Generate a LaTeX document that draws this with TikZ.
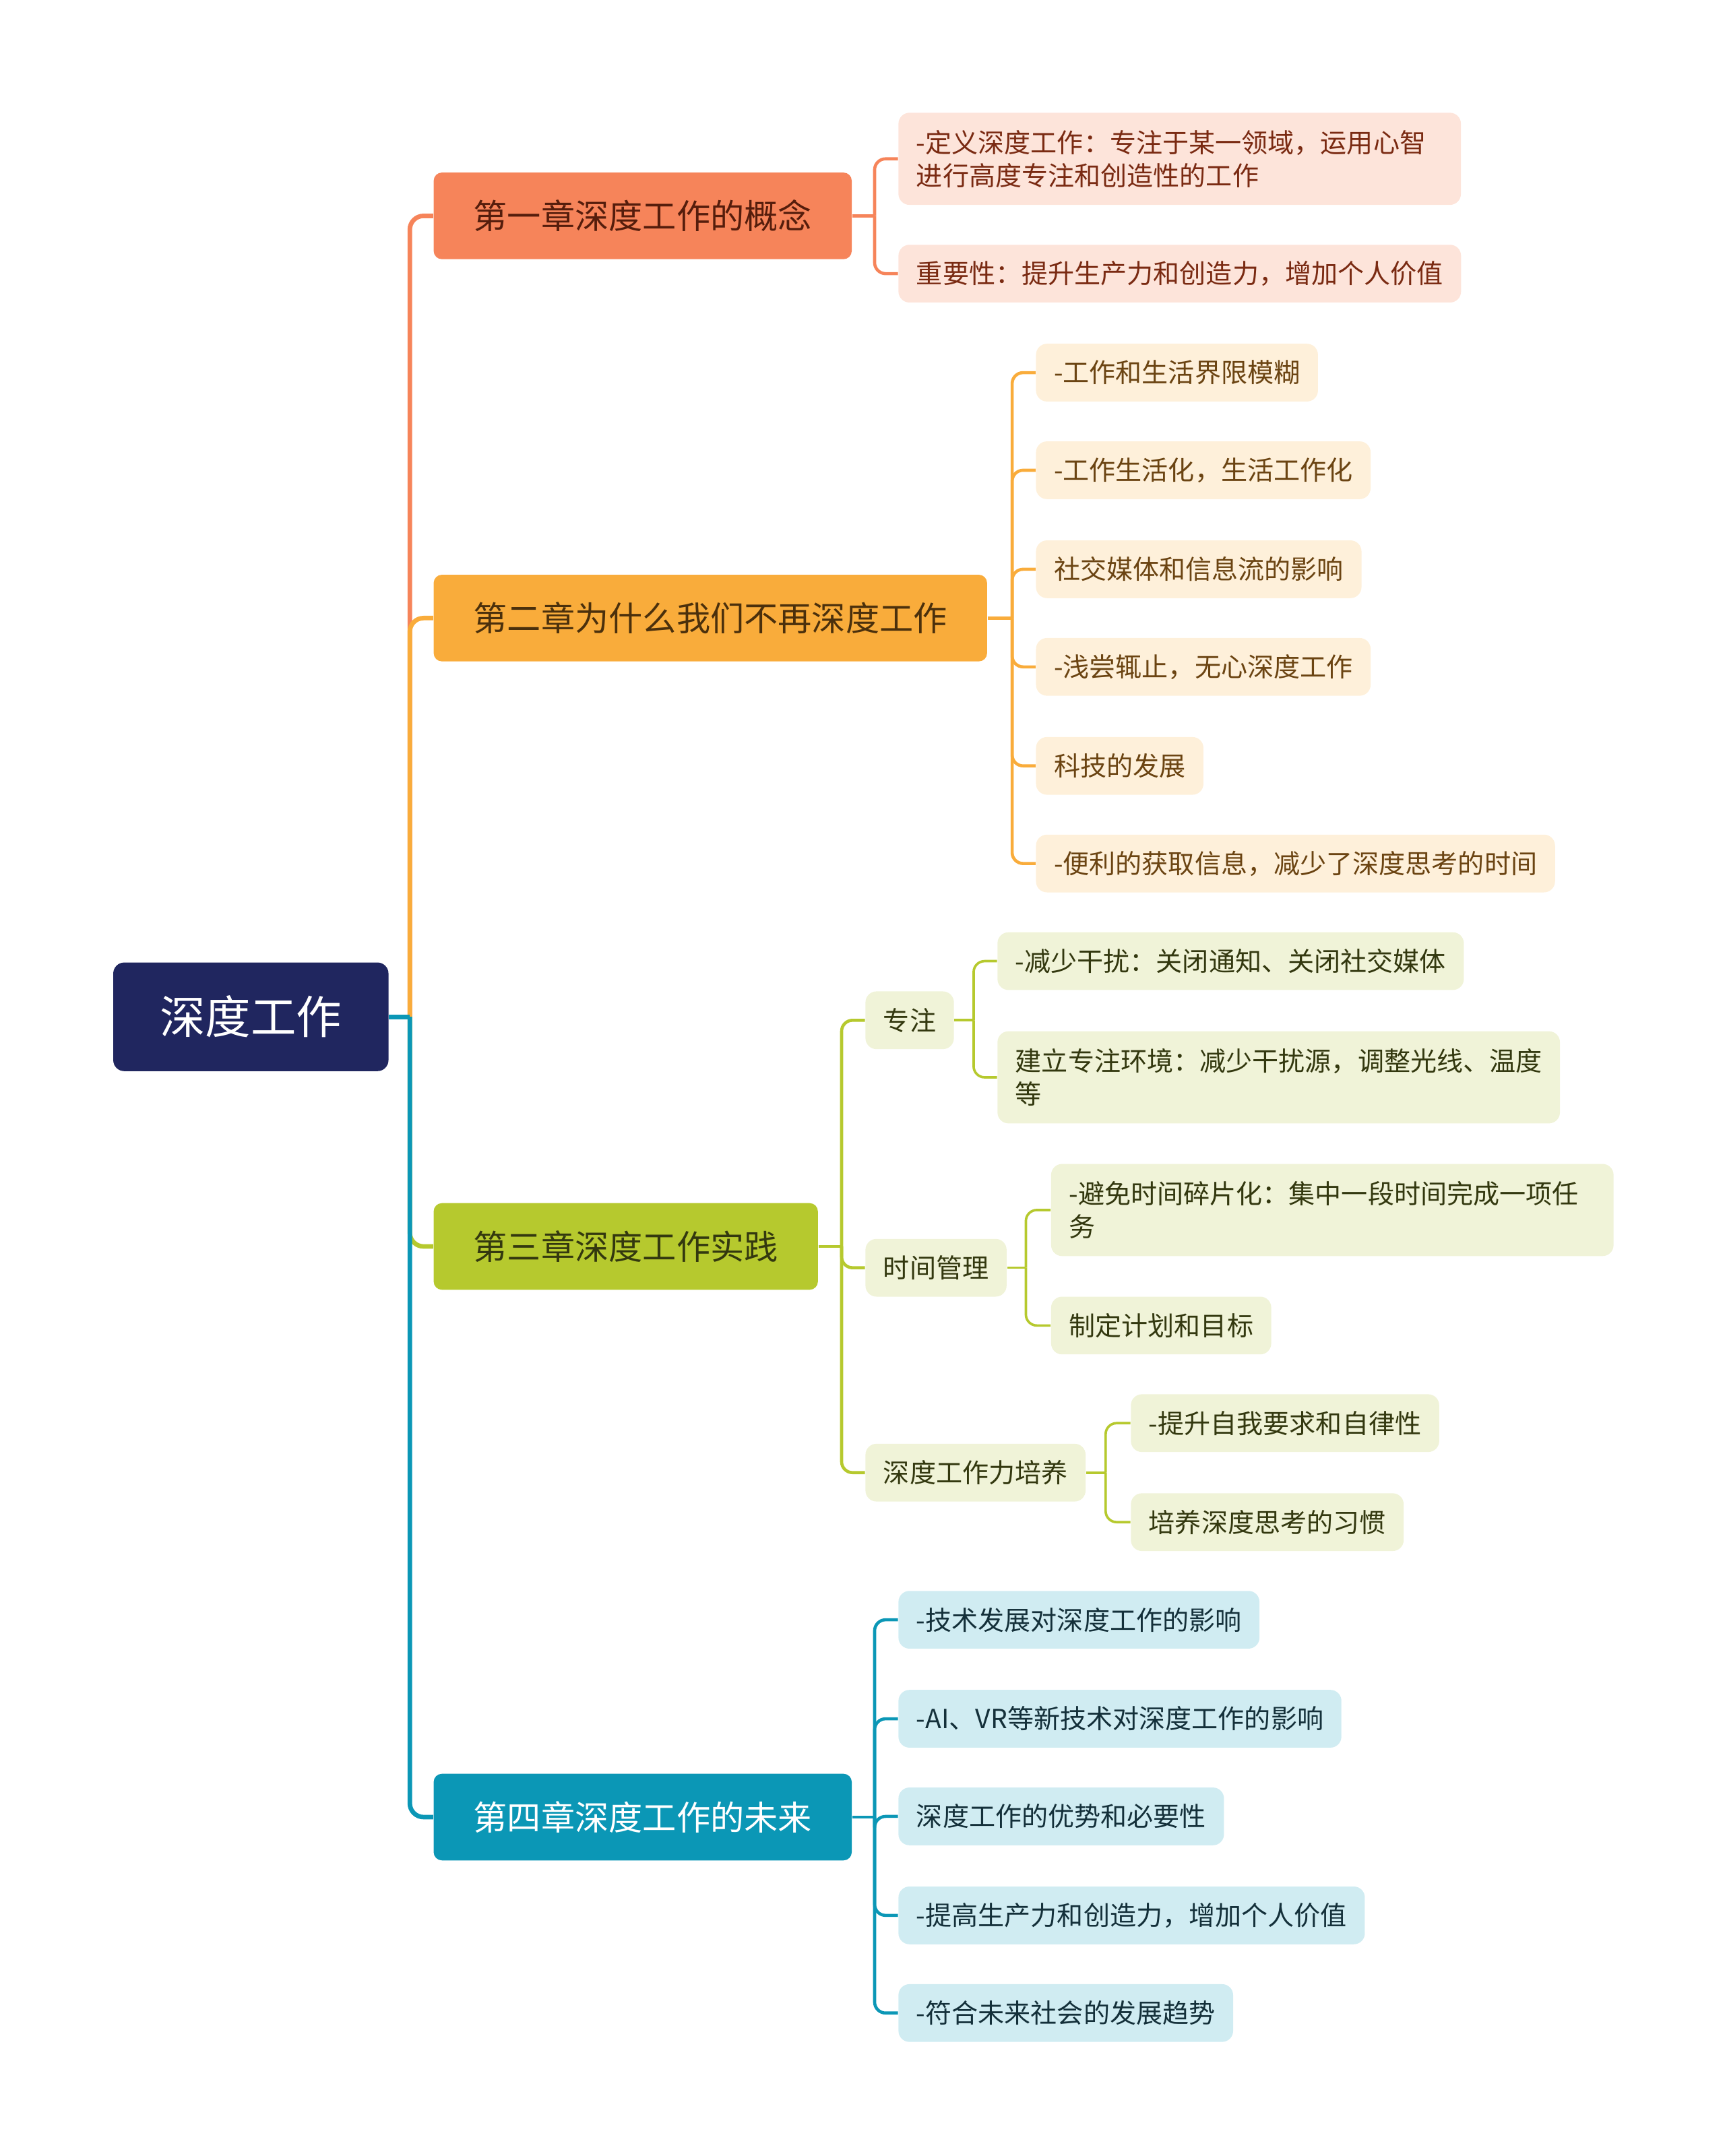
\documentclass[tikz,border=0pt]{standalone}
\usepackage{fontspec}
\setmainfont{Noto Sans CJK SC}
\usepackage{xcolor}
\usetikzlibrary{positioning}

\definecolor{rootblue}{HTML}{20265F}
\definecolor{coral}{HTML}{F6845A}
\definecolor{corallt}{HTML}{FDE4DA}
\definecolor{coraltx}{HTML}{7A2A12}
\definecolor{amber}{HTML}{F9AC3B}
\definecolor{amberlt}{HTML}{FEF0DA}
\definecolor{ambertx}{HTML}{6B4412}
\definecolor{lime}{HTML}{B6C92E}
\definecolor{limelt}{HTML}{F0F3D8}
\definecolor{limetx}{HTML}{33380F}
\definecolor{teal}{HTML}{0B97B6}
\definecolor{teallt}{HTML}{D0ECF2}
\definecolor{tealtx}{HTML}{14303A}

\begin{document}
\begin{tikzpicture}[
		x=0.2mm, y=-0.2mm,
		font=\fontsize{10.9pt}{13.66pt}\selectfont,
		root/.style={rounded corners=1.6mm, anchor=west, fill=rootblue, text=white, inner xsep=6.8mm, minimum height=15.8mm, font=\fontsize{18.8pt}{22pt}\selectfont},
		chap/.style={rounded corners=1.2mm, anchor=west, inner xsep=5.8mm, minimum height=12.6mm, font=\fontsize{14pt}{17pt}\selectfont},
		leaf/.style={rounded corners=1.6mm, anchor=west, inner xsep=2.6mm, inner ysep=1mm, minimum height=8.4mm, align=left},
		twoline/.style={minimum height=13.4mm, text width=76.6mm},
		trunk/.style={line width=0.66mm, rounded corners=2mm},
		twig/.style={line width=0.45mm, rounded corners=1.6mm},
		thin/.style={line width=0.36mm, rounded corners=1.6mm}
		]
		\useasboundingbox (0,0) rectangle (1254,1568);
		
		% Central topic
		\node[root] (deep) at (82,739.5) {深度工作};
		
		% Chapters
		\node[chap, fill=coral, text=coraltx!70!black] (ch1) at (315,157) {第一章深度工作的概念};
		\node[chap, fill=amber, text=ambertx!70!black] (ch2) at (315,449.5) {第二章为什么我们不再深度工作};
		\node[chap, fill=lime, text=limetx] (ch3) at (315,906.5) {第三章深度工作实践};
		\node[chap, fill=teal, text=white] (ch4) at (315,1321.5) {第四章深度工作的未来};
		
		% Chapter 1 points
		\node[leaf, twoline, fill=corallt, text=coraltx] (defn) at (653,115.5) {-定义深度工作：专注于某一领域，运用心智\\进行高度专注和创造性的工作};
		\node[leaf, fill=corallt, text=coraltx] (worth) at (653,199) {重要性：提升生产力和创造力，增加个人价值};
		
		% Chapter 2 points
		\node[leaf, fill=amberlt, text=ambertx] (blur) at (753,271) {-工作和生活界限模糊};
		\node[leaf, fill=amberlt, text=ambertx] (mix) at (753,342) {-工作生活化，生活工作化};
		\node[leaf, fill=amberlt, text=ambertx] (media) at (753,414) {社交媒体和信息流的影响};
		\node[leaf, fill=amberlt, text=ambertx] (shallow) at (753,485) {-浅尝辄止，无心深度工作};
		\node[leaf, fill=amberlt, text=ambertx] (tech) at (753,557) {科技的发展};
		\node[leaf, fill=amberlt, text=ambertx] (info) at (753,628) {-便利的获取信息，减少了深度思考的时间};
		
		% Chapter 3 sub topics and points
		\node[leaf, fill=limelt, text=limetx] (focus) at (629,742) {专注};
		\node[leaf, fill=limelt, text=limetx] (time) at (629,922) {时间管理};
		\node[leaf, fill=limelt, text=limetx] (train) at (629,1071) {深度工作力培养};
		
		\node[leaf, fill=limelt, text=limetx] (noise) at (725,699) {-减少干扰：关闭通知、关闭社交媒体};
		\node[leaf, twoline, fill=limelt, text=limetx] (env) at (725,783.5) {建立专注环境：减少干扰源，调整光线、温度\\等};
		\node[leaf, twoline, fill=limelt, text=limetx] (block) at (764,880) {-避免时间碎片化：集中一段时间完成一项任\\务};
		\node[leaf, fill=limelt, text=limetx] (plan) at (764,964) {制定计划和目标};
		\node[leaf, fill=limelt, text=limetx] (self) at (822,1035) {-提升自我要求和自律性};
		\node[leaf, fill=limelt, text=limetx] (habit) at (822,1107) {培养深度思考的习惯};
		
		% Chapter 4 points
		\node[leaf, fill=teallt, text=tealtx] (impact) at (653,1178) {-技术发展对深度工作的影响};
		\node[leaf, fill=teallt, text=tealtx] (aivr) at (653,1250) {-AI、VR等新技术对深度工作的影响};
		\node[leaf, fill=teallt, text=tealtx] (merit) at (653,1321) {深度工作的优势和必要性};
		\node[leaf, fill=teallt, text=tealtx] (boost) at (653,1393) {-提高生产力和创造力，增加个人价值};
		\node[leaf, fill=teallt, text=tealtx] (trend) at (653,1464) {-符合未来社会的发展趋势};
		
		% Junction points
		\coordinate (j0) at (298,739.5);
		\coordinate (j1) at (636,157);
		\coordinate (j2) at (736,449.5);
		\coordinate (j3) at (612,906.5);
		\coordinate (j4) at (636,1321.5);
		\coordinate (jf) at (708,742);
		\coordinate (jt) at (746,922);
		\coordinate (jp) at (804,1071);
		
		% Central topic to chapters
		\draw[trunk, coral] (j0) |- (ch1.west);
		\draw[trunk, amber] (j0) |- (ch2.west);
		\draw[trunk, lime] (j0) |- (ch3.west);
		\draw[trunk, teal] (j0) |- (ch4.west);
		\draw[trunk, teal] (deep.east) -- (j0);
		
		% Chapter 1 links
		\draw[twig, coral] (ch1.east) -- (j1);
		\draw[twig, coral] (j1) |- (defn.west);
		\draw[twig, coral] (j1) |- (worth.west);
		
		% Chapter 2 links
		\draw[twig, amber] (ch2.east) -- (j2);
		\draw[twig, amber] (j2) |- (blur.west);
		\draw[twig, amber] (j2) |- (mix.west);
		\draw[twig, amber] (j2) |- (media.west);
		\draw[twig, amber] (j2) |- (shallow.west);
		\draw[twig, amber] (j2) |- (tech.west);
		\draw[twig, amber] (j2) |- (info.west);
		
		% Chapter 3 links
		\draw[twig, lime] (ch3.east) -- (j3);
		\draw[twig, lime] (j3) |- (focus.west);
		\draw[twig, lime] (j3) |- (time.west);
		\draw[twig, lime] (j3) |- (train.west);
		\draw[thin, lime] (focus.east) -- (jf);
		\draw[thin, lime] (jf) |- (noise.west);
		\draw[thin, lime] (jf) |- (env.west);
		\draw[thin, lime] (time.east) -- (jt);
		\draw[thin, lime] (jt) |- (block.west);
		\draw[thin, lime] (jt) |- (plan.west);
		\draw[thin, lime] (train.east) -- (jp);
		\draw[thin, lime] (jp) |- (self.west);
		\draw[thin, lime] (jp) |- (habit.west);
		
		% Chapter 4 links
		\draw[twig, teal] (ch4.east) -- (j4);
		\draw[twig, teal] (j4) |- (impact.west);
		\draw[twig, teal] (j4) |- (aivr.west);
		\draw[twig, teal] (j4) |- (merit.west);
		\draw[twig, teal] (j4) |- (boost.west);
		\draw[twig, teal] (j4) |- (trend.west);
	\end{tikzpicture}
\end{document}
